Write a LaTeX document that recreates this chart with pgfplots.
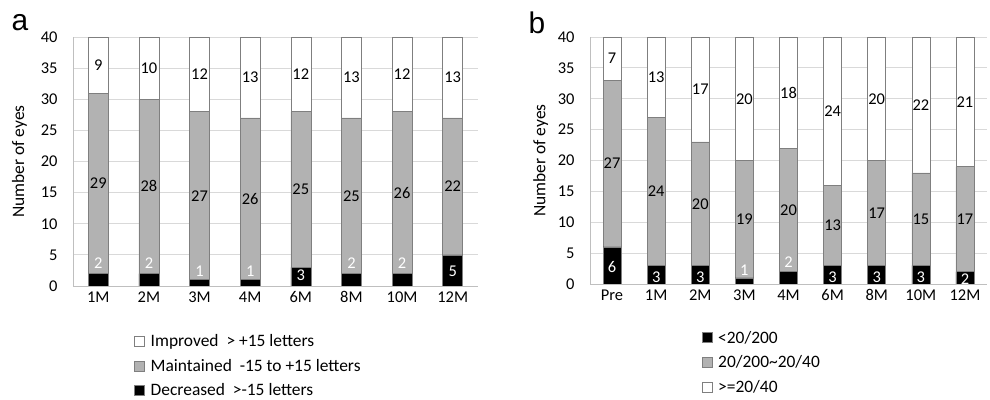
\documentclass[border=0pt]{standalone}
\usepackage{pgfplots}
\pgfplotsset{compat=1.18}
\usepackage{fontspec}
\setmainfont{Carlito}
\newfontfamily\arialf{Liberation Sans}
\definecolor{barg}{HTML}{B2B2B2}
\definecolor{edge}{HTML}{7F7F7F}
\definecolor{gridc}{HTML}{D9D9D9}
\definecolor{axc}{HTML}{BFBFBF}
\pgfplotsset{
  sq legend/.style={legend image code/.code={\draw[##1,draw=edge,line width=0.6bp] (-4bp,-5bp) rectangle (6bp,5bp);}},
  base/.style={
    scale only axis, anchor=south west,
    ymin=0, ymax=40, ytick={0,5,...,40},
    ymajorgrids, grid style={draw=gridc, line width=0.8bp},
    axis x line*=bottom, axis y line*=left,
    axis line style={draw=axc, line width=1bp},
    major tick length=0,
    /pgf/number format/assume math mode=true,
    tick label style={font=\fontsize{16.5}{19}\selectfont},
    yticklabel style={xshift=-12bp},
    xticklabel style={yshift=-2bp},
    ylabel={Number of eyes},
    label style={font=\fontsize{17.5}{20}\selectfont},
  },
  lab/.style={draw=none, nodes near coords, point meta=explicit symbolic,
    every node near coord/.style={anchor=center, font=\fontsize{16.5}{19}\selectfont, text=#1}},
}
\begin{document}
\begin{tikzpicture}
\path[use as bounding box] (0,0) rectangle (990bp,400bp);
\node[font=\arialf\fontsize{30}{32}\selectfont] at (20bp,377bp) {a};
\node[font=\arialf\fontsize{30}{32}\selectfont] at (537bp,377bp) {b};
% Panel a
\begin{axis}[base, at={(73bp,114bp)}, width=405bp, height=249bp,
  ybar stacked, bar width=20bp,
  xmin=-0.5, xmax=7.5, xtick={0,...,7},
  xticklabels={1M,2M,3M,4M,6M,8M,10M,12M},
  ylabel style={at={(axis description cs:-0.132,0.5)}, anchor=center},
  reverse legend,
  legend style={at={(axis description cs:0.143,-0.178)}, anchor=north west, draw=none, fill=none,
    font=\fontsize{17.5}{20}\selectfont, row sep=7bp, legend cell align=left,
    /tikz/every odd column/.append style={column sep=4bp}},
]
\addplot[fill=black, draw=edge, line width=0.6bp, sq legend] coordinates {(0,2) (1,2) (2,1) (3,1) (4,3) (5,2) (6,2) (7,5)};
\addlegendentry{Decreased\ \ >-15 letters}
\addplot[fill=barg, draw=edge, line width=0.6bp, sq legend] coordinates {(0,29) (1,28) (2,27) (3,26) (4,25) (5,25) (6,26) (7,22)};
\addlegendentry{Maintained\ \ -15 to +15 letters}
\addplot[fill=white, draw=edge, line width=0.6bp, sq legend] coordinates {(0,9) (1,10) (2,12) (3,13) (4,12) (5,13) (6,12) (7,13)};
\addlegendentry{Improved\ \ > +15 letters}
\end{axis}
\begin{axis}[base, hide axis, at={(73bp,114bp)}, width=405bp, height=249bp,
  xmin=-0.5, xmax=7.5]
\addplot[lab=black] table[meta=l] {
x y l
0 16.5 29
1 16 28
2 14.5 27
3 14 26
4 15.5 25
5 14.5 25
6 15 26
7 16 22
0 35.5 9
1 35 10
2 34 12
3 33.5 13
4 34 12
5 33.5 13
6 34 12
7 33.5 13
};
\addplot[lab=white] table[meta=l] {
x y l
0 3.7 2
1 3.7 2
2 2.3 1
3 2.3 1
4 1.7 3
5 3.7 2
6 3.7 2
7 2.3 5
};
\end{axis}
% Panel b
\begin{axis}[base, at={(590bp,116bp)}, width=397bp, height=247bp,
  ybar stacked, bar width=18bp,
  xmin=-0.5, xmax=8.5, xtick={0,...,8},
  xticklabels={Pre,1M,2M,3M,4M,6M,8M,10M,12M},
  ylabel style={at={(axis description cs:-0.124,0.5)}, anchor=center},
  legend style={at={(axis description cs:0.273,-0.173)}, anchor=north west, draw=none, fill=none,
    font=\fontsize{17.5}{20}\selectfont, row sep=7bp, legend cell align=left,
    /tikz/every odd column/.append style={column sep=4bp}},
]
\addplot[fill=black, draw=edge, line width=0.6bp, sq legend] coordinates {(0,6) (1,3) (2,3) (3,1) (4,2) (5,3) (6,3) (7,3) (8,2)};
\addlegendentry{<20/200}
\addplot[fill=barg, draw=edge, line width=0.6bp, sq legend] coordinates {(0,27) (1,24) (2,20) (3,19) (4,20) (5,13) (6,17) (7,15) (8,17)};
\addlegendentry{20/200\symbol{"7E}20/40}
\addplot[fill=white, draw=edge, line width=0.6bp, sq legend] coordinates {(0,7) (1,13) (2,17) (3,20) (4,18) (5,24) (6,20) (7,22) (8,21)};
\addlegendentry{>=20/40}
\end{axis}
\begin{axis}[base, hide axis, at={(590bp,116bp)}, width=397bp, height=247bp,
  xmin=-0.5, xmax=8.5]
\addplot[lab=black] table[meta=l] {
x y l
0 19.5 27
1 15 24
2 13 20
3 10.5 19
4 12 20
5 9.5 13
6 11.5 17
7 10.5 15
8 10.5 17
0 36.5 7
1 33.5 13
2 31.5 17
3 30 20
4 31 18
5 28 24
6 30 20
7 29 22
8 29.5 21
};
\addplot[lab=white] table[meta=l] {
x y l
0 2.8 6
1 1.1 3
2 1.1 3
3 2.3 1
4 3.6 2
5 1.1 3
6 1.1 3
7 1.1 3
8 0.8 2
};
\end{axis}
\end{tikzpicture}
\end{document}
